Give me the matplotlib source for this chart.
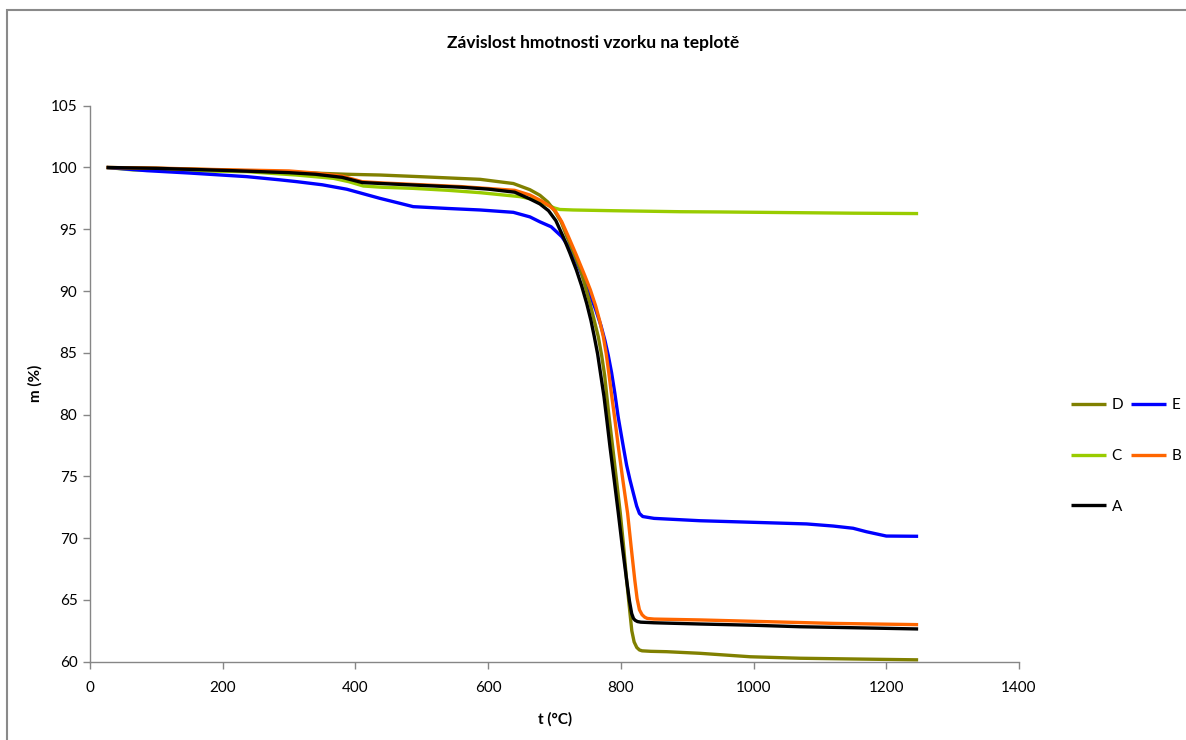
import matplotlib
matplotlib.use("Agg")
import matplotlib.pyplot as plt
from matplotlib.patches import Rectangle

plt.rcParams['font.family'] = ['Lato', 'DejaVu Sans']

# Thermogravimetric curves: temperature (°C) and remaining mass (%)
t_A = [25, 100, 200, 300, 340, 380, 410, 440, 500, 560, 600, 640, 663, 678, 691, 702, 713,
       723, 733, 741, 748.5, 755, 760, 765, 770, 774.6, 779, 783.6, 790, 796, 802, 808.7,
       813, 816.3, 819, 821.5, 825, 830, 850, 920, 1000, 1070, 1150, 1248]
m_A = [100, 99.93, 99.77, 99.58, 99.45, 99.2, 98.78, 98.7, 98.55, 98.4, 98.25, 98.0, 97.45,
       97.05, 96.5, 95.7, 94.4, 93.1, 91.7, 90.4, 89.0, 87.6, 86.3, 84.9, 83.1, 81.45, 79.5,
       77.4, 74.7, 72.1, 69.4, 66.6, 64.9, 63.9, 63.5, 63.35, 63.25, 63.2, 63.15, 63.05,
       62.95, 62.83, 62.75, 62.65]

t_B = [25, 100, 200, 300, 340, 380, 410, 440, 500, 560, 600, 640, 663, 680, 692, 701, 711,
       721, 733, 746, 754, 762, 768, 773.6, 778, 782, 786, 791, 796.2, 803, 810.2, 815.5,
       821, 824.5, 828, 832, 836, 840, 850, 880, 920, 1020, 1120, 1248]
m_B = [100, 99.95, 99.82, 99.72, 99.55, 99.3, 98.85, 98.75, 98.6, 98.45, 98.3, 98.15, 97.77,
       97.3, 96.9, 96.5, 95.6, 94.4, 92.9, 91.2, 90.1, 88.8, 87.6, 86.3, 84.9, 83.3, 81.6,
       79.6, 77.4, 74.7, 72.0, 69.3, 66.6, 65.1, 64.2, 63.8, 63.6, 63.5, 63.45, 63.42, 63.38,
       63.24, 63.1, 63.0]

t_C = [25, 65, 150, 236, 311, 367, 390, 412, 440, 487, 540, 588, 648, 665, 678, 690, 700,
       708, 728, 789, 889, 949, 1050, 1150, 1248]
m_C = [100, 99.8, 99.73, 99.66, 99.39, 99.12, 98.85, 98.5, 98.4, 98.31, 98.15, 97.96, 97.64,
       97.45, 97.23, 96.95, 96.72, 96.6, 96.56, 96.5, 96.42, 96.4, 96.35, 96.3, 96.27]

t_D = [25, 100, 200, 300, 387, 437, 500, 588, 638, 663, 678, 690, 700, 710, 718, 728, 740,
       753.5, 766, 771, 775.5, 781, 787.6, 793, 799.2, 804, 808.7, 813.8, 816.5, 820, 824,
       828, 832, 845, 869, 919, 995, 1070, 1150, 1248]
m_D = [100, 99.93, 99.8, 99.62, 99.45, 99.39, 99.25, 99.04, 98.7, 98.2, 97.75, 97.2, 96.5,
       95.6, 94.5, 93.2, 91.6, 89.0, 86.3, 84.8, 83.2, 80.4, 77.4, 74.9, 72.0, 69.4, 66.6,
       63.9, 62.5, 61.6, 61.15, 60.95, 60.88, 60.84, 60.81, 60.68, 60.4, 60.28, 60.22, 60.15]

t_E = [25, 86, 150, 236, 286, 312, 350, 387, 437, 467, 487, 540, 588, 638, 663, 678, 695,
       711, 725, 738.4, 750, 762, 770, 776, 781, 786, 791, 796, 803.7, 808.7, 813.8, 819,
       823.8, 828, 833, 850, 919, 1019, 1080, 1120, 1150, 1170, 1200, 1248]
m_E = [100, 99.74, 99.55, 99.26, 99.0, 98.85, 98.6, 98.24, 97.5, 97.1, 96.83, 96.68, 96.56,
       96.37, 96.0, 95.6, 95.2, 94.4, 93.3, 91.7, 90.2, 88.5, 87.2, 86.0, 84.8, 83.4, 81.7,
       79.8, 77.4, 75.9, 74.7, 73.6, 72.6, 72.0, 71.75, 71.6, 71.41, 71.25, 71.15, 70.98,
       70.8, 70.52, 70.17, 70.15]

colors = {'A': '#000000', 'B': '#FF6600', 'C': '#99CC00', 'D': '#808000', 'E': '#0000FF'}

x_ticks = [0, 200, 400, 600, 800, 1000, 1200, 1400]
y_ticks = [60, 65, 70, 75, 80, 85, 90, 95, 100, 105]

fig = plt.figure(figsize=(11.86, 7.4), dpi=100)
ax = fig.add_axes([90 / 1186, 1 - 661.7 / 740, (1019 - 90) / 1186, (661.7 - 105.7) / 740])

series = {'A': (t_A, m_A), 'B': (t_B, m_B), 'C': (t_C, m_C), 'D': (t_D, m_D), 'E': (t_E, m_E)}
lines = {}
for key in ['C', 'E', 'D', 'B', 'A']:
    t, m = series[key]
    lines[key], = ax.plot(t, m, color=colors[key], lw=2.4, label=key,
                          solid_joinstyle='round', solid_capstyle='butt')

ax.set_xlim(0, 1400)
ax.set_ylim(60, 105)
ax.set_xticks(x_ticks)
ax.set_yticks(y_ticks)
ax.tick_params(direction='out', length=5, width=1, color='#868686',
               labelsize=11, labelcolor='#000000', pad=4)
ax.tick_params(axis='x', pad=9)
for side in ['top', 'right']:
    ax.spines[side].set_visible(False)
for side in ['left', 'bottom']:
    ax.spines[side].set_color('#868686')
    ax.spines[side].set_linewidth(1)

fig.text(593 / 1186, 1 - 43 / 740, 'Závislost hmotnosti vzorku na teplotě',
         ha='center', va='center', fontsize=12.5, fontweight='bold')
fig.text(555 / 1186, 1 - 719 / 740, 't (°C)', ha='center', va='center',
         fontsize=11, fontweight='bold')
fig.text(35 / 1186, 1 - 383 / 740, 'm (%)', ha='center', va='center',
         fontsize=11, fontweight='bold', rotation=90)

order = ['D', 'C', 'A', 'E', 'B']
fig.legend([lines[k] for k in order], order, ncol=2, frameon=False,
           loc='center left', bbox_to_anchor=(1071 / 1186, 1 - 456 / 740),
           borderpad=0, borderaxespad=0, fontsize=11, handlelength=2.3,
           handletextpad=0.35, columnspacing=0.5, labelspacing=2.4)

# chart area border
fig.patches.append(Rectangle((7 / 1186, -0.2), 1.2, 1.2 - 10 / 740,
                             transform=fig.transFigure, fill=False,
                             edgecolor='#8a8a8a', lw=1.5))

fig.savefig('out.png', dpi=100)
